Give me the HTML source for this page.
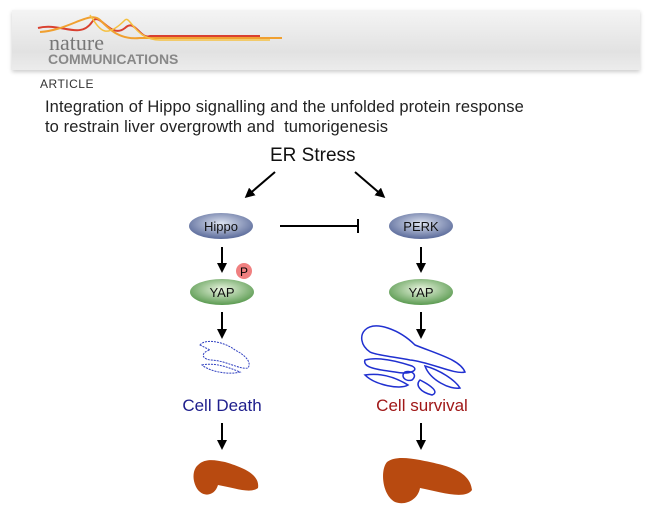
<!DOCTYPE html>
<html><head><style>
body{margin:0;width:648px;height:520px;background:#fff;overflow:hidden;position:relative;font-family:"Liberation Sans",sans-serif}
.hdr{position:absolute;left:12px;top:10px;width:628px;height:60px;background:linear-gradient(#f4f4f4,#e2e2e2 70%,#ececec);box-shadow:0 2px 4px #ccc}
.t{position:absolute;white-space:nowrap}
</style></head><body>
<div class="hdr"></div>
<svg style="position:absolute;left:0;top:0" width="648" height="520">
<path d="M38 28 C60 22,80 40,92 22 C100 10,110 40,125 28 C135 18,140 40,150 36 L260 36" stroke="#d94030" stroke-width="2" fill="none"/>
<path d="M40 32 C70 30,90 10,100 20 C110 30,120 40,140 38 L282 38" stroke="#f0a030" stroke-width="2" fill="none"/>
<path d="M90 15 C100 30,105 40,125 20 C130 15,135 40,160 40 L270 40" stroke="#f5c040" stroke-width="1.5" fill="none"/>
<defs>
<marker id="a" markerWidth="10" markerHeight="10" refX="7" refY="5" orient="auto" markerUnits="userSpaceOnUse"><path d="M0,0 L10,5 L0,10z" fill="#000"/></marker>
<radialGradient id="b" cx="50%" cy="40%" r="60%"><stop offset="0" stop-color="#dde3f0"/><stop offset="1" stop-color="#5a6a9a"/></radialGradient>
<radialGradient id="g" cx="50%" cy="40%" r="60%"><stop offset="0" stop-color="#eaf5e0"/><stop offset="1" stop-color="#5a9a50"/></radialGradient>
</defs>
<g stroke="#000" stroke-width="2" fill="none">
<line x1="275" y1="172" x2="247" y2="196" marker-end="url(#a)"/>
<line x1="355" y1="172" x2="383" y2="196" marker-end="url(#a)"/>
<line x1="280" y1="226" x2="357" y2="226"/><line x1="358" y1="219" x2="358" y2="233"/>
<line x1="222" y1="247" x2="222" y2="270" marker-end="url(#a)"/>
<line x1="421" y1="247" x2="421" y2="270" marker-end="url(#a)"/>
<line x1="222" y1="312" x2="222" y2="336" marker-end="url(#a)"/>
<line x1="421" y1="312" x2="421" y2="336" marker-end="url(#a)"/>
<line x1="222" y1="423" x2="222" y2="447" marker-end="url(#a)"/>
<line x1="421" y1="423" x2="421" y2="447" marker-end="url(#a)"/>
</g>
<ellipse cx="221" cy="226" rx="32" ry="13" fill="url(#b)"/>
<ellipse cx="421" cy="226" rx="32" ry="13" fill="url(#b)"/>
<ellipse cx="222" cy="292" rx="32" ry="13" fill="url(#g)"/>
<ellipse cx="421" cy="292" rx="32" ry="13" fill="url(#g)"/>
<circle cx="244" cy="271" r="8" fill="#f08080"/>
<text x="244" y="276" font-size="12" text-anchor="middle" font-family="Liberation Sans">P</text>
<g font-family="Liberation Sans" font-size="13" text-anchor="middle" fill="#111">
<text x="221" y="231">Hippo</text><text x="421" y="231">PERK</text>
<text x="222" y="297">YAP</text><text x="421" y="297">YAP</text></g>
<g fill="none" stroke="#3040c0" stroke-dasharray="2 1">
<path d="M200 345 C205 338,225 342,235 350 C245 355,252 362,248 368 C240 370,225 360,210 360 C200 358,202 352,210 350 Z M202 365 C215 362,230 368,240 372 C230 375,210 372,202 365Z"/>
</g>
<g fill="none" stroke="#2030d0" stroke-width="1.5">
<path d="M365 330 C375 320,400 330,415 345 C440 355,460 360,465 372 C455 375,430 362,410 360 C395 357,375 355,370 352 C360 345,360 335,365 330Z"/>
<path d="M365 360 C380 356,400 362,412 366 C420 370,410 375,395 372 C380 370,362 368,365 360Z"/>
<path d="M365 375 C385 372,400 380,408 385 C400 390,375 385,365 375Z"/>
<path d="M425 366 C440 370,455 380,460 388 C450 390,430 380,425 366Z"/>
<path d="M405 372 C412 370,418 375,412 380 C405 382,400 376,405 372Z"/>
<path d="M420 380 C430 385,440 392,432 395 C420 392,415 385,420 380Z"/>
</g>
<path d="M198 465 C205 458,215 460,225 462 C245 468,260 475,258 488 C250 494,235 488,218 485 C215 495,205 498,198 490 C192 482,192 470,198 465Z" fill="#b84a10"/>
<path d="M387 462 C395 456,408 458,420 460 C445 465,470 470,472 490 C465 500,440 492,420 488 C418 500,405 506,395 502 C382 495,380 470,387 462Z" fill="#b84a10"/>
</svg>
<div class="t" style="left:49px;top:30px;font-family:'Liberation Serif',serif;font-size:22px;color:#777">nature</div>
<div class="t" style="left:48px;top:51px;font-size:14px;font-weight:bold;color:#888">COMMUNICATIONS</div>
<div class="t" style="left:40px;top:77px;font-size:12px;color:#333;letter-spacing:0.5px">ARTICLE</div>
<div class="t" style="left:45px;top:97px;font-size:16.5px;color:#222;line-height:20px;letter-spacing:0.1px">Integration of Hippo signalling and the unfolded protein response<br>to restrain liver overgrowth and&nbsp; tumorigenesis</div>
<div class="t" style="left:270px;top:145px;font-size:19px;color:#111">ER Stress</div>
<div class="t" style="left:222px;top:396px;transform:translateX(-50%);font-size:17px;color:#1e1e8c">Cell Death</div>
<div class="t" style="left:422px;top:396px;transform:translateX(-50%);font-size:17px;color:#a01818">Cell survival</div>
</body></html>
